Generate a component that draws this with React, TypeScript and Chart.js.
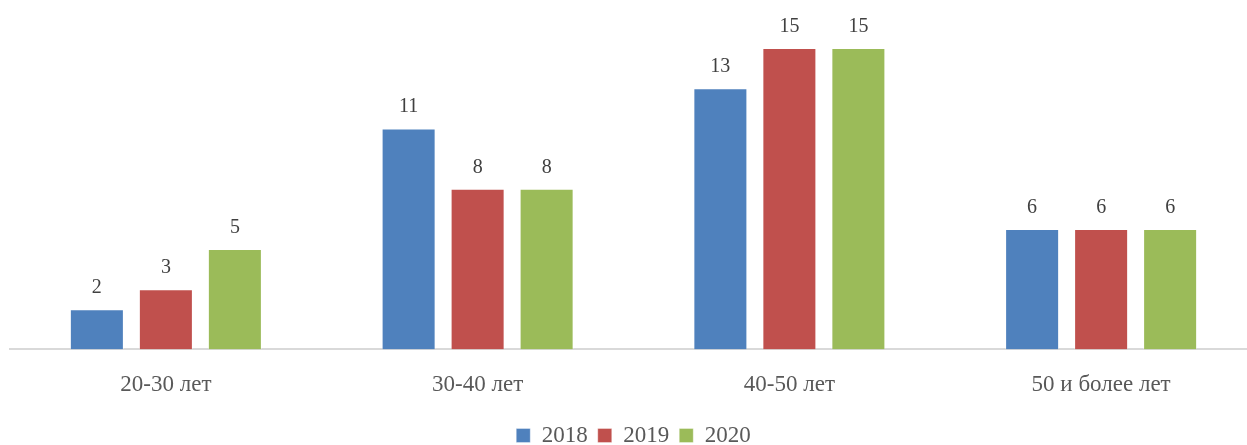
import React, { useEffect, useRef } from "react";
import { Chart, registerables } from "chart.js";

Chart.register(...registerables);

const categories = ["20-30 лет", "30-40 лет", "40-50 лет", "50 и более лет"];
const seriesNames = ["2018", "2019", "2020"];
const values2018 = [2, 11, 13, 6];
const values2019 = [3, 8, 15, 6];
const values2020 = [5, 8, 15, 6];
const colors = ["#4F81BD", "#C0504D", "#9BBB59"];

const FONT = "'Liberation Serif', 'DejaVu Serif', serif";

const valueLabels = {
  id: "valueLabels",
  afterDatasetsDraw(chart: any) {
    const ctx = chart.ctx;
    ctx.save();
    ctx.font = `20px ${FONT}`;
    ctx.fillStyle = "#404040";
    ctx.textAlign = "center";
    ctx.textBaseline = "alphabetic";
    chart.data.datasets.forEach((ds: any, i: number) => {
      const meta = chart.getDatasetMeta(i);
      meta.data.forEach((el: any, j: number) => {
        ctx.fillText(String(ds.data[j]), el.x, el.y - 16);
      });
    });
    ctx.restore();
  },
};

export default function App() {
  const ref = useRef<HTMLCanvasElement | null>(null);
  useEffect(() => {
    document.body.style.margin = "0";
    document.body.style.overflow = "hidden";
    const seriesValues = [values2018, values2019, values2020];
    const chart = new Chart(ref.current!, {
      type: "bar",
      data: {
        labels: categories,
        datasets: seriesNames.map((name, i) => ({
          label: name,
          data: seriesValues[i],
          backgroundColor: colors[i],
          borderColor: "rgba(255,255,255,0.35)",
          borderWidth: 1,
          barPercentage: 0.783,
          categoryPercentage: 0.664,
        })),
      },
      options: {
        animation: false,
        responsive: false,
        layout: { padding: { left: 10, top: 28, right: 0, bottom: -12 } },
        plugins: {
          legend: {
            position: "bottom",
            labels: {
              font: { family: FONT, size: 23 },
              color: "#595959",
              boxWidth: 14,
              boxHeight: 14,
              padding: 10,
            },
          },
          tooltip: { enabled: false },
        },
        scales: {
          x: {
            grid: { display: false },
            border: { display: true, color: "#D9D9D9", width: 2 },
            ticks: {
              font: { family: FONT, size: 23 },
              color: "#595959",
              padding: 14,
            },
            afterFit(scale: any) {
              scale.height += 1;
            },
          },
          y: {
            display: false,
            min: 0,
            max: 16,
          },
        },
      },
      plugins: [valueLabels],
    });
    return () => chart.destroy();
  }, []);
  return (
    <div style={{ width: 1257, height: 445 }}>
      <canvas ref={ref} width={1257} height={445} style={{ display: "block" }} />
    </div>
  );
}
